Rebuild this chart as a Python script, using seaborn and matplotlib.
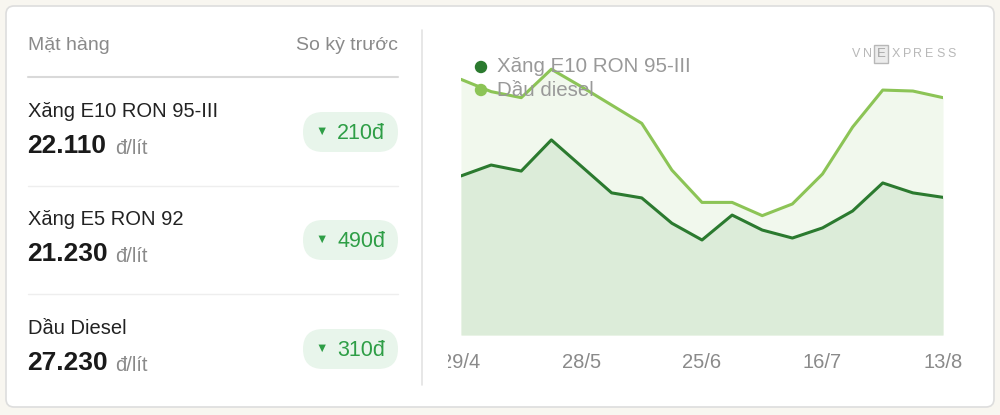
import matplotlib
matplotlib.use("Agg")
import matplotlib.pyplot as plt
from matplotlib.patches import FancyBboxPatch, Rectangle
from matplotlib.transforms import Bbox
import seaborn as sns
import pandas as pd

# dữ liệu bảng
items = ["Xăng E10 RON 95-III", "Xăng E5 RON 92", "Dầu Diesel"]
prices = ["22.110", "21.230", "27.230"]
changes = ["210đ", "490đ", "310đ"]

# dữ liệu biểu đồ (đ/lít)
e10 = [23210, 23770, 23460, 25060, 23700, 22340, 22080, 20780, 19920,
       21200, 20430, 20020, 20540, 21410, 22850, 22340, 22110]
diesel = [28170, 27540, 27230, 28690, 27790, 26850, 25910, 23510, 21850,
          21850, 21170, 21770, 23310, 25720, 27620, 27570, 27230]
tick_pos = [0, 4, 8, 12, 16]
tick_labels = ["29/4", "28/5", "25/6", "16/7", "13/8"]
series_names = ["Xăng E10 RON 95-III", "Dầu diesel"]

sns.set_theme(style="white")
plt.rcParams["font.family"] = ["Liberation Sans", "DejaVu Sans"]

DARK = "#2b7a2f"
LIGHT = "#8cc456"
GRAY = "#8a8a8a"
BADGE_TXT = "#2e9e46"

W, H = 1000, 415
fig = plt.figure(figsize=(W / 100, H / 100), dpi=100)
fig.patch.set_facecolor("#f8f6f0")


def pixel_axes(z):
    a = fig.add_axes([0, 0, 1, 1], zorder=z)
    a.set_xlim(0, W)
    a.set_ylim(H, 0)
    a.axis("off")
    a.patch.set_alpha(0)
    return a


# nền + bảng bên trái (toạ độ pixel)
bg = pixel_axes(0)
bg.add_patch(FancyBboxPatch((6, 6), 988, 401, boxstyle="round,pad=0,rounding_size=8",
                            fc="white", ec="#dddddd", lw=1.2))

bg.text(28, 46, "Mặt hàng", fontsize=14, color=GRAY, va="center")
bg.text(398, 46, "So kỳ trước", fontsize=14, color=GRAY, va="center", ha="right")
bg.plot([28, 398], [77, 77], color="#d9d9d9", lw=1.5)

row_y = [111, 219, 328]
for i, (name, price, chg) in enumerate(zip(items, prices, changes)):
    y = row_y[i]
    bg.text(28, y, name, fontsize=14.5, color="#222222", va="center")
    bg.text(27, y + 35, price, fontsize=19, fontweight="bold", color="#1a1a1a", va="center")
    bg.text(115, y + 37, "đ/lít", fontsize=14.5, color=GRAY, va="center")
    if i < 2:
        bg.plot([28, 398], [y + 75, y + 75], color="#eeeeee", lw=1)
    cy = y + 21
    bg.add_patch(FancyBboxPatch((303, cy - 20), 95, 40,
                                boxstyle="round,pad=0,rounding_size=20",
                                fc="#e8f5eb", ec="none"))
    bg.text(322, cy, "▼", fontsize=9, color=BADGE_TXT, va="center", ha="center")
    bg.text(337, cy + 1, chg, fontsize=15.5, color=BADGE_TXT, va="center")

bg.plot([422, 422], [30, 385], color="#e3e3e3", lw=1.2)

# biểu đồ
df = pd.DataFrame({"idx": list(range(len(e10))) * 2,
                   "price": e10 + diesel,
                   "series": [series_names[0]] * len(e10) + [series_names[1]] * len(diesel)})

x0, x1, yb, yt = 461, 943, 335, 30
ax = fig.add_axes([x0 / W, 1 - yb / H, (x1 - x0) / W, (yb - yt) / H], zorder=1)
ax.patch.set_alpha(0)
ymin, ymax = 15040, 30705
ax.fill_between(range(len(diesel)), ymin, diesel, color="#f1f8ed", lw=0)
ax.fill_between(range(len(e10)), ymin, e10, color="#dcecd9", lw=0)
sns.lineplot(data=df, x="idx", y="price", hue="series",
             palette={series_names[0]: DARK, series_names[1]: LIGHT},
             hue_order=[series_names[1], series_names[0]],
             linewidth=2.2, legend=False, ax=ax)
ax.set_xlim(0, 16)
ax.set_ylim(ymin, ymax)
ax.set_xlabel("")
ax.set_ylabel("")
ax.set_yticks([])
ax.set_xticks(tick_pos)
ax.set_xticklabels(tick_labels, fontsize=14.5, color=GRAY)
ax.tick_params(axis="x", length=0, pad=13)
for s in ax.spines.values():
    s.set_visible(False)

# cắt nhãn đầu tiên như bản gốc
clip = Bbox.from_extents(448, 0, W, H)
for lbl in ax.get_xticklabels():
    lbl.set_clip_box(clip)
    lbl.set_clip_on(True)

# chú giải + logo nằm trên đường
top = pixel_axes(2)
for k, (name, col) in enumerate(zip(series_names, [DARK, LIGHT])):
    ly = 67 + k * 23
    top.scatter([481], [ly], s=80, color=col, edgecolors="none")
    top.text(497, ly, name, fontsize=14.8, color="#999999", va="center")

WM = "#b8b8b8"
for ch, xx in zip("VN", [856, 868]):
    top.text(xx, 54, ch, fontsize=9, color=WM, va="center", ha="center")
top.add_patch(Rectangle((874, 45), 14, 18, fc="#ececec", ec=WM, lw=1))
top.text(881, 54, "E", fontsize=9.5, color="#a5a5a5", va="center", ha="center")
for j, ch in enumerate("XPRESS"):
    top.text(895.5 + j * 11.2, 54, ch, fontsize=9, color=WM, va="center", ha="center")

fig.savefig("out.png", dpi=100, facecolor=fig.get_facecolor())
